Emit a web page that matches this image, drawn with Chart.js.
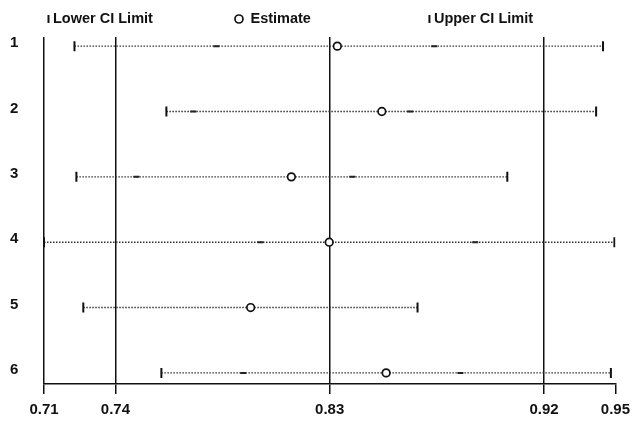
<!DOCTYPE html>
<html>
<head>
<meta charset="utf-8">
<script src="https://cdn.jsdelivr.net/npm/chart.js@4"></script>
<style>
body{margin:0;background:#fff;}
canvas{display:block;}
</style>
</head>
<body>
<canvas id="canvas" width="637" height="423"></canvas>
<script>
// values
const rows=["1","2","3","4","5","6"];
const lowerCI=[0.7228,0.7614,0.7236,0.7100,0.7265,0.7593];
const estimate=[0.8332,0.8519,0.8139,0.8298,0.7968,0.8537];
const upperCI=[0.9448,0.9419,0.9046,0.9496,0.8669,0.9481];
const markLeft=[0.7824,0.7727,0.7488,0.8009,null,0.7937];
const markRight=[0.8739,0.8638,0.8395,0.8911,null,0.8849];
const xTicks=[0.71,0.74,0.83,0.92,0.95];
const legendNames=["Lower CI Limit","Estimate","Upper CI Limit"];

const font="'Liberation Sans', Arial, sans-serif";
const ink="#111";

function toPoints(values){
    let pts=[];
    values.forEach((v,i)=>{
        if(v!==null){
            pts.push({x:v,y:i+1});
        }
    });
    return pts;
}
function ciSegments(){
    let pts=[];
    rows.forEach((r,i)=>{
        pts.push({x:lowerCI[i],y:i+1});
        pts.push({x:upperCI[i],y:i+1});
        pts.push({x:upperCI[i],y:null});
    });
    return pts;
}

// legend spread over three equal columns of the plot width
const columnLegend={
    id:"columnLegend",
    afterDraw(chart){
        const ctx=chart.ctx;
        const area=chart.chartArea;
        const colW=area.width/3;
        const y=18;
        const sets=[chart.data.datasets[1],chart.data.datasets[2],chart.data.datasets[3]];
        ctx.save();
        sets.forEach((ds,k)=>{
            const x0=area.left+k*colW;
            ctx.strokeStyle=ink;
            ctx.fillStyle="#fff";
            ctx.lineWidth=ds.borderWidth;
            Chart.helpers.drawPoint(ctx,{
                pointStyle:ds.pointStyle,
                rotation:ds.rotation||0,
                radius:4,
                borderWidth:ds.borderWidth
            },x0+4.5,y+1);
            ctx.fillStyle=ink;
            ctx.font="bold 14.5px "+font;
            ctx.textBaseline="middle";
            ctx.textAlign="left";
            const gap=ds.pointStyle==="circle"?16:9;
            ctx.fillText(legendNames[k],x0+gap,y+1);
        });
        ctx.restore();
    }
};

new Chart(document.getElementById("canvas"),{
    type:"scatter",
    data:{
        datasets:[
            {
                label:"CI",
                type:"line",
                data:ciSegments(),
                borderColor:"#333",
                borderWidth:1.4,
                borderDash:[1.5,1.5],
                pointRadius:0,
                spanGaps:false,
                fill:false,
                order:5
            },
            {
                label:legendNames[0],
                data:toPoints(lowerCI),
                pointStyle:"line",
                rotation:90,
                radius:5,
                borderWidth:2,
                borderColor:ink,
                order:1
            },
            {
                label:legendNames[1],
                data:toPoints(estimate),
                pointStyle:"circle",
                radius:3.8,
                borderWidth:1.7,
                borderColor:ink,
                backgroundColor:"#fff",
                order:1
            },
            {
                label:legendNames[2],
                data:toPoints(upperCI),
                pointStyle:"line",
                rotation:90,
                radius:5,
                borderWidth:2,
                borderColor:ink,
                order:1
            },
            {
                label:"marks",
                data:toPoints(markLeft).concat(toPoints(markRight)),
                pointStyle:"line",
                radius:3,
                borderWidth:2,
                borderColor:"#222",
                order:2
            }
        ]
    },
    options:{
        responsive:false,
        animation:false,
        events:[],
        layout:{
            padding:{top:37,left:10,right:21,bottom:-3}
        },
        plugins:{
            legend:{display:false},
            tooltip:{enabled:false}
        },
        scales:{
            x:{
                type:"linear",
                min:0.71,
                max:0.95,
                afterBuildTicks(scale){
                    scale.ticks=xTicks.map(v=>({value:v}));
                },
                ticks:{
                    autoSkip:false,
                    maxRotation:0,
                    padding:7,
                    color:ink,
                    font:{family:font,size:15,weight:"bold"},
                    callback(value){
                        return value.toFixed(2);
                    }
                },
                grid:{
                    color(c){
                        return c.tick&&c.tick.value===0.95?"rgba(0,0,0,0)":ink;
                    },
                    tickColor:ink,
                    tickLength:10,
                    lineWidth:1.5
                },
                border:{display:true,color:ink,width:1.5}
            },
            y:{
                type:"linear",
                reverse:true,
                min:0.86,
                max:6.17,
                afterBuildTicks(scale){
                    scale.ticks=rows.map((r,i)=>({value:i+1}));
                },
                afterFit(scale){
                    scale.width=34;
                },
                ticks:{
                    crossAlign:"far",
                    labelOffset:-3,
                    color:ink,
                    font:{family:font,size:15,weight:"bold"},
                    callback(value){
                        return rows[Math.round(value)-1];
                    }
                },
                grid:{display:false},
                border:{display:false}
            }
        }
    },
    plugins:[columnLegend]
});
</script>
</body>
</html>
